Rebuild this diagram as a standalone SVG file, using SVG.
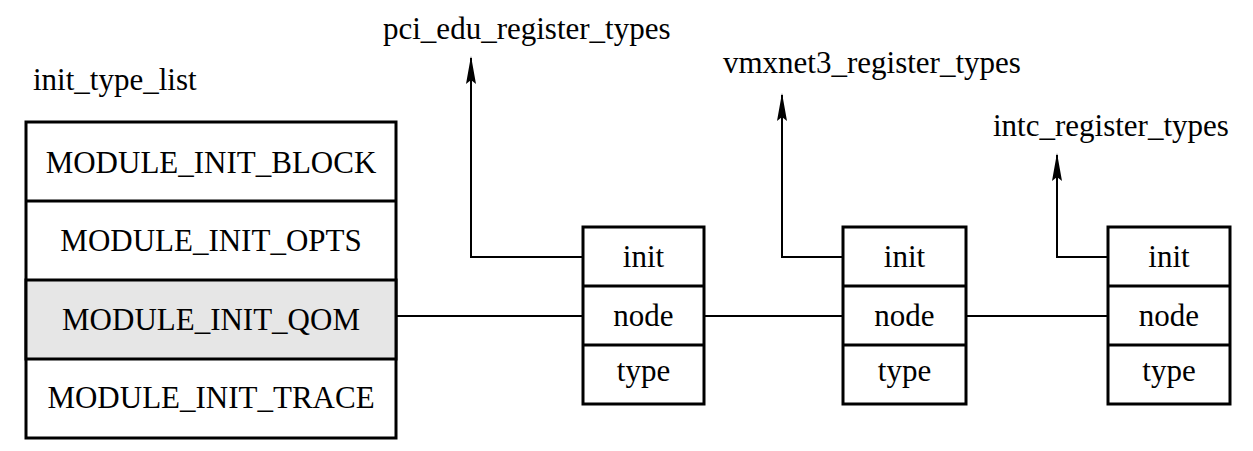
<svg xmlns="http://www.w3.org/2000/svg" width="1253" height="451" viewBox="0 0 1253 451">
<defs>
<style>
text{font-family:'Liberation Serif', serif;font-size:31px;fill:#000;text-anchor:middle}
.lbl{text-anchor:start}
.box{fill:#fff;stroke:#000;stroke-width:3}
.hl{fill:#e6e6e6;stroke:#000;stroke-width:3}
.div{stroke:#000;stroke-width:3}
.con{fill:none;stroke:#000;stroke-width:2}
</style>
<marker id="ah" markerUnits="userSpaceOnUse" markerWidth="28" markerHeight="10" refX="26" refY="5" orient="auto" viewBox="0 0 28 10">
<path d="M28 5 L0 0 L4 5 L0 10 Z" fill="#000"/>
</marker>
</defs>
<rect width="1253" height="451" fill="#fff"/>

<g id="connectors">
<path class="con" d="M396 316 H583"/>
<path class="con" d="M704 316 H843"/>
<path class="con" d="M966 316 H1108"/>
<path class="con" d="M583 257 H471 V58" marker-end="url(#ah)"/>
<path class="con" d="M843 257 H782 V95" marker-end="url(#ah)"/>
<path class="con" d="M1108 257 H1057 V155" marker-end="url(#ah)"/>
</g>

<g id="init_type_list">
<text class="lbl" x="33" y="90">init_type_list</text>
<rect class="box" x="26" y="122" width="370" height="316"/>
<rect class="hl" x="26" y="280" width="370" height="79"/>
<line class="div" x1="26" y1="201" x2="396" y2="201"/>
<text x="211" y="173">MODULE_INIT_BLOCK</text>
<text x="211" y="251">MODULE_INIT_OPTS</text>
<text x="211" y="330">MODULE_INIT_QOM</text>
<text x="211" y="408">MODULE_INIT_TRACE</text>
</g>

<g id="node1">
<rect class="box" x="583" y="227" width="121" height="177"/>
<line class="div" x1="583" y1="286" x2="704" y2="286"/>
<line class="div" x1="583" y1="345" x2="704" y2="345"/>
<text x="643.5" y="267">init</text>
<text x="643.5" y="326">node</text>
<text x="643.5" y="381">type</text>
</g>

<g id="node2">
<rect class="box" x="843" y="227" width="123" height="177"/>
<line class="div" x1="843" y1="286" x2="966" y2="286"/>
<line class="div" x1="843" y1="345" x2="966" y2="345"/>
<text x="904.5" y="267">init</text>
<text x="904.5" y="326">node</text>
<text x="904.5" y="381">type</text>
</g>

<g id="node3">
<rect class="box" x="1108" y="227" width="122" height="177"/>
<line class="div" x1="1108" y1="286" x2="1230" y2="286"/>
<line class="div" x1="1108" y1="345" x2="1230" y2="345"/>
<text x="1169" y="267">init</text>
<text x="1169" y="326">node</text>
<text x="1169" y="381">type</text>
</g>

<g id="targets">
<text class="lbl" x="383" y="39">pci_edu_register_types</text>
<text class="lbl" x="723" y="73">vmxnet3_register_types</text>
<text class="lbl" x="993" y="136">intc_register_types</text>
</g>
</svg>
